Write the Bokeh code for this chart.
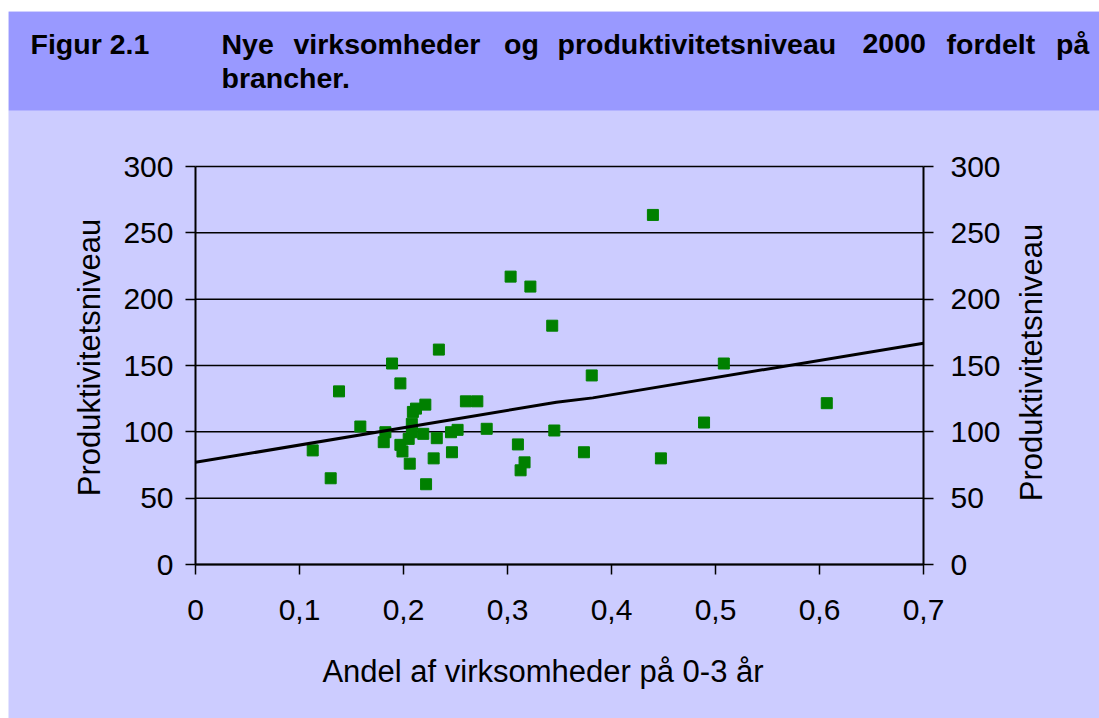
import math
from bokeh.plotting import figure
from bokeh.models import Range1d, LinearAxis, FixedTicker, CustomJSTickFormatter
from bokeh.layouts import column
from bokeh.core.properties import value
from bokeh.embed import file_html
from bokeh.resources import INLINE

# ---------------- data ----------------
andel = [0.303, 0.322, 0.343, 0.234, 0.189, 0.197, 0.381, 0.138, 0.260, 0.271,
         0.221, 0.212, 0.209, 0.1585, 0.208, 0.1826, 0.2457, 0.252, 0.280, 0.345,
         0.219, 0.208, 0.181, 0.205, 0.197, 0.199, 0.232, 0.1127, 0.310, 0.2466,
         0.3735, 0.229, 0.3164, 0.206, 0.3126, 0.130, 0.2217, 0.4398, 0.508, 0.607,
         0.489, 0.4475]
produkt = [217, 209.5, 180, 162, 151.5, 136.5, 142.5, 130.5, 123, 123,
           120.5, 117.5, 115, 104, 106, 99.7, 99.7, 101.5, 102.3, 101,
           98.5, 99.7, 92.2, 94.7, 90.2, 85.2, 95.2, 86, 90.5, 84.6,
           84.6, 80, 77, 76, 71, 65, 60.5, 263.5, 151.5, 121.6,
           107, 80]
trend_x = [0.0, 0.347, 0.382, 0.7]
trend_y = [77.0, 122.3, 125.6, 166.8]

y_ticks = [0, 50, 100, 150, 200, 250, 300]
x_ticks = [0, 0.1, 0.2, 0.3, 0.4, 0.5, 0.6, 0.7]

title_words = ["Figur 2.1", "Nye", "virksomheder", "og", "produktivitetsniveau",
               "2000", "fordelt", "på", "brancher."]
x_label = "Andel af virksomheder på 0-3 år"
y_label = "Produktivitetsniveau"

FONT = "Liberation Sans"
HEADER_BG = "#9999FF"
BG = "#CCCCFF"
GREEN = "#008000"

# ---------------- layout geometry (page pixels) ----------------
FIG_L, FIG_T, FIG_W, FIG_H = 8, 11, 1091, 707
AX_X0, AX_X1 = 195, 923     # page x of data 0 and 0.7
AX_Y0, AX_Y1 = 564, 166     # page y of data 0 and 300
XS = (AX_X1 - AX_X0) / 0.7
YS = (AX_Y0 - AX_Y1) / 300.0

def px2x(px):
    return (px - AX_X0) / XS

def py2y(py):
    return (AX_Y0 - py) / YS

p = figure(width=FIG_W, height=FIG_H,
           x_range=Range1d(px2x(FIG_L), px2x(FIG_L + FIG_W)),
           y_range=Range1d(py2y(FIG_T + FIG_H), py2y(FIG_T)),
           output_backend="svg", toolbar_location=None,
           min_border=0, min_border_left=0, min_border_right=0,
           min_border_top=0, min_border_bottom=0,
           background_fill_color=BG, border_fill_color=BG, outline_line_color=None)
p.xgrid.visible = False
p.ygrid.visible = False

# header band
p.quad(left=px2x(FIG_L), right=px2x(FIG_L + FIG_W), top=py2y(FIG_T), bottom=py2y(110),
       fill_color=HEADER_BG, line_color=None)

word_px = [30, 221, 293, 503.5, 557, 862, 946, 1055.5, 221]
word_py = [43, 43, 43, 43, 43, 43, 43, 43, 77]
p.text(x=[px2x(v) for v in word_px], y=[py2y(v) for v in word_py], text=title_words,
       text_font=value(FONT), text_font_size="28.5px", text_font_style="bold",
       text_color="black", text_baseline="alphabetic", text_align="left")

# horizontal grid lines between the two value axes
p.segment(x0=[x_ticks[0]] * len(y_ticks), y0=y_ticks,
          x1=[x_ticks[-1]] * len(y_ticks), y1=y_ticks,
          line_color="black", line_width=1.5)

def style_axis(ax):
    ax.axis_line_color = "black"
    ax.axis_line_width = 2
    ax.major_tick_line_color = "black"
    ax.major_tick_line_width = 1.5
    ax.major_tick_out = 10
    ax.major_tick_in = 0
    ax.minor_tick_line_color = None
    ax.major_label_text_font = FONT
    ax.major_label_text_font_size = "30px"
    ax.major_label_text_color = "black"

xa = p.xaxis[0]
style_axis(xa)
xa.fixed_location = 0
xa.bounds = (x_ticks[0], x_ticks[-1])
xa.ticker = FixedTicker(ticks=x_ticks)
xa.formatter = CustomJSTickFormatter(code="return tick == 0 ? '0' : tick.toFixed(1).replace('.', ',');")
xa.major_label_standoff = 25

ya = p.yaxis[0]
style_axis(ya)
ya.fixed_location = 0
ya.bounds = (y_ticks[0], y_ticks[-1])
ya.ticker = FixedTicker(ticks=y_ticks)
ya.major_label_standoff = 12

yr = LinearAxis(ticker=FixedTicker(ticks=y_ticks))
style_axis(yr)
yr.fixed_location = 0.7
yr.bounds = (y_ticks[0], y_ticks[-1])
yr.major_label_standoff = 17
p.add_layout(yr, "right")

# axis titles
p.text(x=[px2x(542.5)], y=[py2y(671)], text=[x_label], text_font=value(FONT),
       text_font_size="31px", text_color="black", text_align="center",
       text_baseline="alphabetic")
p.text(x=[px2x(89), px2x(1031)], y=[py2y(357), py2y(362)], text=[y_label, y_label],
       angle=math.pi / 2, text_font=value(FONT), text_font_size="31px",
       text_color="black", text_align="center", text_baseline="alphabetic")

p.scatter(andel, produkt, marker="square", size=11, fill_color=GREEN, line_color=GREEN)
p.line(trend_x, trend_y, line_color="black", line_width=3)

out = column(p, margin=(FIG_T, 0, 0, FIG_L))
open("out.html", "w").write(file_html(out, INLINE))
